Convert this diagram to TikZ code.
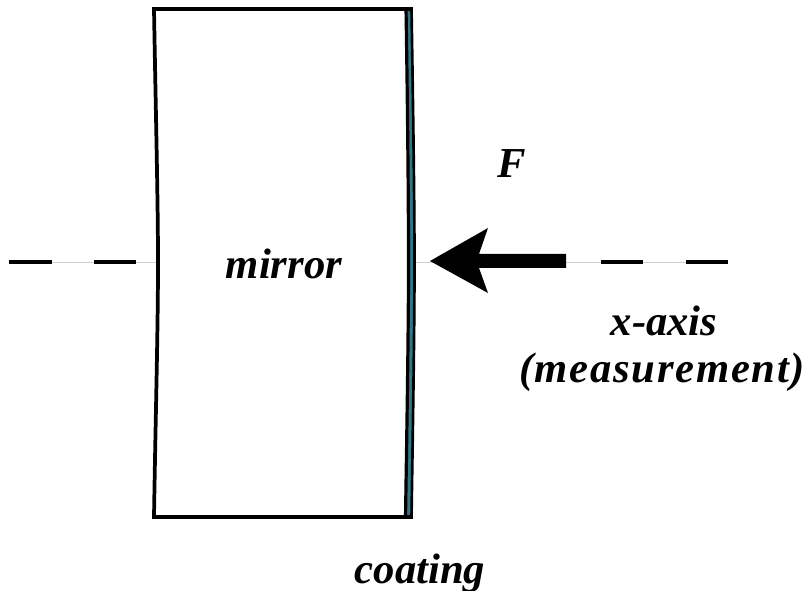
\documentclass[tikz,border=0pt]{standalone}
\usepackage{fontspec}
\setmainfont{Liberation Serif}
\usepackage{tikz}
\usetikzlibrary{positioning}
\definecolor{coatingteal}{RGB}{48,118,135}
\tikzset{
  label text/.style={font=\fontsize{32}{38}\selectfont\bfseries\itshape, inner sep=0pt},
  axis dash/.style={line width=2.8},
  axis thin/.style={line width=.7, black!18}
}
\begin{document}
\begin{tikzpicture}[x=.75pt, y=-.75pt, line width=2.8]
\useasboundingbox (0,0) rectangle (811,591);
% -- axis --
\draw[axis thin] (9,262) to (156,262);
\draw[axis thin] (415,262) to (728,262);
\draw[axis dash] (9,262) to (52,262);
\draw[axis dash] (94,262) to (136,262);
\draw[axis dash] (601,262) to (643,262);
\draw[axis dash] (686,262) to (728,262);
% -- coating --
\draw[line width=4.5, coatingteal] (408.5,8) .. controls (410,100) and (411.5,200) .. (411.5,262) .. controls (411.5,330) and (410,420) .. (408.5,518);
% -- mirror --
\draw[line cap=rect] (154,9) to (411,9);
\draw[line cap=rect] (154,517) to (411,517);
\draw (154,9) .. controls (155.5,100) and (158,200) .. (158,262) .. controls (158,330) and (155.5,420) .. (154,517);
\draw[line width=2.4] (406,8) .. controls (407.5,100) and (408.5,200) .. (408.5,262) .. controls (408.5,330) and (407,420) .. (405.5,518);
\draw[line width=2] (411.5,8) .. controls (413,100) and (414.5,200) .. (414.5,262) .. controls (414.5,330) and (413,420) .. (411.5,518);
% -- force --
\fill (430,261) -- (488,228) -- (479,254) -- (566,254) -- (566,268) -- (479,268) -- (488,293) -- cycle;
% -- labels --
\node[label text] (mirror) at (284,264) {mirror};
\node[label text] (force) at (512,164) {F};
\node[label text] (axis) at (664,321) {x-axis};
\node[label text, font=\fontsize{32}{38}\selectfont\bfseries\itshape\addfontfeature{LetterSpace=4}] (measure) at (662,372) {(measurement)};
\node[label text] (coating) at (420,573) {coating};
\end{tikzpicture}
\end{document}
